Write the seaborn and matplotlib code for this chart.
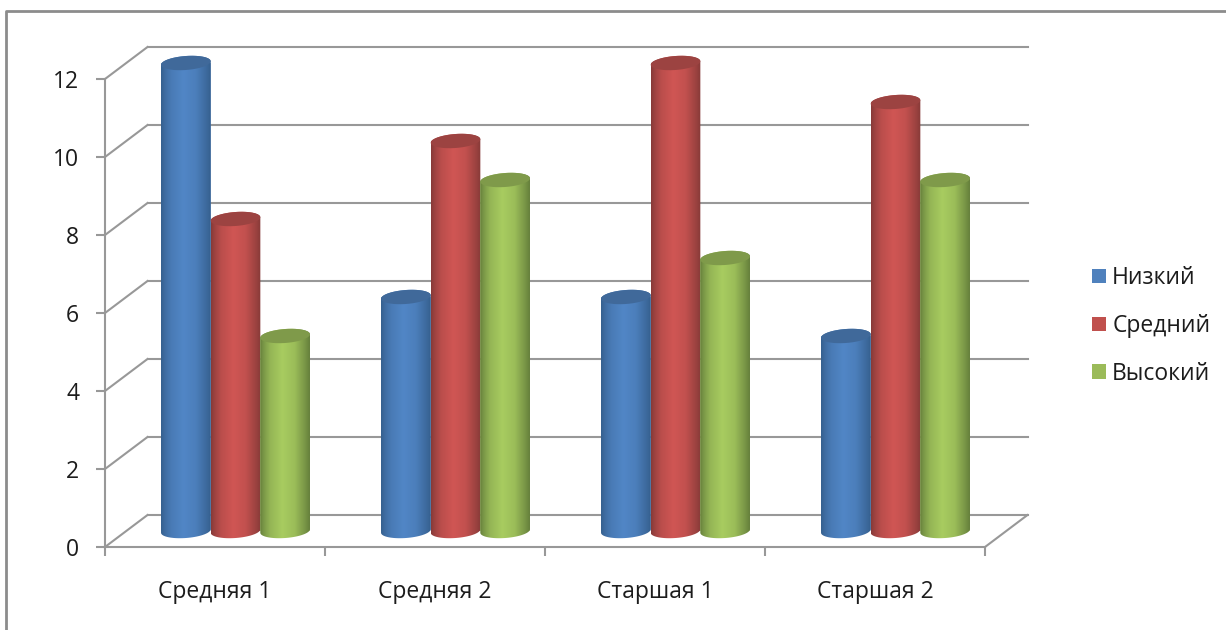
import numpy as np
import pandas as pd
import matplotlib.pyplot as plt
import seaborn as sns
from matplotlib.colors import to_rgb
from matplotlib.path import Path
from matplotlib.transforms import Affine2D

groups = ['Средняя 1', 'Средняя 2', 'Старшая 1', 'Старшая 2']
levels = ['Низкий', 'Средний', 'Высокий']
low = [12, 6, 6, 5]
mid = [8, 10, 12, 11]
high = [5, 9, 7, 9]
yticks = [0, 2, 4, 6, 8, 10, 12]

W, H = 1226, 630
GREY = '#989898'
TEXT = '#1c1c1c'
colors = {'Низкий': '#4f81bd', 'Средний': '#c0504d', 'Высокий': '#9bbb59'}
caps = {'Низкий': '#40699a', 'Средний': '#9c4341', 'Высокий': '#7f9a4a'}
edges = {'Низкий': '#36608f', 'Средний': '#873a38', 'Высокий': '#66803c'}
centers = {'Низкий': '#5186c6', 'Средний': '#d05654', 'Высокий': '#a8cc60'}

plt.rcParams['font.family'] = ['Open Sans', 'DejaVu Sans']

df = pd.DataFrame({'group': groups, levels[0]: low, levels[1]: mid, levels[2]: high})
df = df.melt(id_vars='group', var_name='level', value_name='value')

fig = plt.figure(figsize=(W / 100, H / 100), dpi=100)
ax = fig.add_axes([105 / W, (H - 547) / H, 880 / W, 468 / H])
sns.barplot(data=df, x='group', y='value', hue='level', hue_order=levels, palette=colors,
            saturation=1, width=0.677, gap=0, linewidth=0, ax=ax)
ax.set_xlim(-0.5, 3.5)
ax.set_ylim(0, 12)
ax.set_xlabel('')
ax.set_ylabel('')

# the back wall and the bars sit behind the front plane of the axes
back = ax.transData + Affine2D().translate(42.5, 32)
mid_plane = ax.transData + Affine2D().translate(20.5, 16)

for v in yticks:
    ax.plot([-0.5, 3.5], [v, v], color=GREY, lw=1.5, transform=back, clip_on=False, zorder=1)
    x0, y0 = ax.transData.transform((-0.5, v))
    ax.plot([x0, x0 + 42.5], [y0, y0 + 32], color=GREY, lw=1.5, transform=None, clip_on=False, zorder=1)
x0, y0 = ax.transData.transform((3.5, 0))
ax.plot([x0, x0 + 42.5], [y0, y0 + 32], color=GREY, lw=1.5, transform=None, clip_on=False, zorder=1)

# cylinders: gradient clipped to the bar outline plus a tilted cap on top
ry = 7 / 39
tilt = 3.5 / 39
stops = [0, 0.06, 0.2, 0.45, 0.7, 0.92, 1]
weights = [1, 0.72, 0.3, 0, 0.2, 0.75, 1]
t = np.linspace(0, 1, 60)
a = np.linspace(0, np.pi, 40)
ex = np.cos(a)
for i, (level, bars) in enumerate(zip(levels, ax.containers)):
    c = np.array(to_rgb(centers[level]))
    e = np.array(to_rgb(edges[level]))
    k = np.interp(t, stops, weights)[:, None]
    grad = (c * (1 - k) + e * k)[None, :, :]
    for bar in bars:
        x, w, h = bar.get_x(), bar.get_width(), bar.get_height()
        # top edge left to right, then round the bottom right to left
        top_x = x + w / 2 - w / 2 * ex
        top_y = h + ry * np.sin(a) - tilt * 0.5 * ex
        bot_x = x + w / 2 + w / 2 * ex
        bot_y = -ry * np.sin(a) + tilt * 0.5 * ex
        outline = Path(np.c_[np.r_[top_x, bot_x, top_x[0]], np.r_[top_y, bot_y, top_y[0]]])
        bar.set_transform(mid_plane)
        bar.set_zorder(2 + i)
        bar.set_clip_box(fig.bbox)
        bar.set_clip_path(outline, mid_plane)
        im = ax.imshow(grad, extent=(x, x + w, -2 * ry, h + 2 * ry), aspect='auto',
                       interpolation='bilinear', zorder=2.2 + i)
        im.set_transform(mid_plane)
        im.set_clip_box(fig.bbox)
        im.set_clip_path(outline, mid_plane)
        cap_x = x + w / 2 + w / 2 * np.cos(2 * a)
        cap_y = h + ry * np.sin(2 * a) + tilt * 0.5 * np.cos(2 * a)
        ax.fill(cap_x, cap_y, color=caps[level], lw=0, transform=mid_plane, clip_on=False, zorder=2.5 + i)
ax.set_xlim(-0.5, 3.5)
ax.set_ylim(0, 12)

sns.despine(ax=ax)
for s in ['left', 'bottom']:
    ax.spines[s].set_color(GREY)
    ax.spines[s].set_linewidth(1.5)
ax.set_yticks(yticks)
ax.set_xticks(np.arange(-0.5, 4), minor=True)
ax.tick_params(axis='y', length=6.5, width=1.5, color=GREY, pad=12, labelsize=16.5, labelcolor=TEXT)
ax.tick_params(axis='x', which='major', length=0, pad=24, labelsize=16.5, labelcolor=TEXT)
ax.tick_params(axis='x', which='minor', length=6.5, width=1.5, color=GREY)

handles, labels = ax.get_legend_handles_labels()
ax.get_legend().remove()
fig.legend(handles, labels, loc='center left', bbox_to_anchor=(1092 / W, 1 - 326 / H), frameon=False,
           fontsize=16.5, labelcolor=TEXT, handlelength=0.61, handleheight=0.61, handletextpad=0.27,
           labelspacing=1.04, borderpad=0, borderaxespad=0)

# outer chart frame runs off the picture on the right and at the bottom
fig.add_artist(plt.Line2D([6 / W, 6 / W, 1], [0, 1 - 11 / H, 1 - 11 / H], color='#8c8c8c', lw=2,
                          transform=fig.transFigure))

fig.savefig('out.png', dpi=100)
